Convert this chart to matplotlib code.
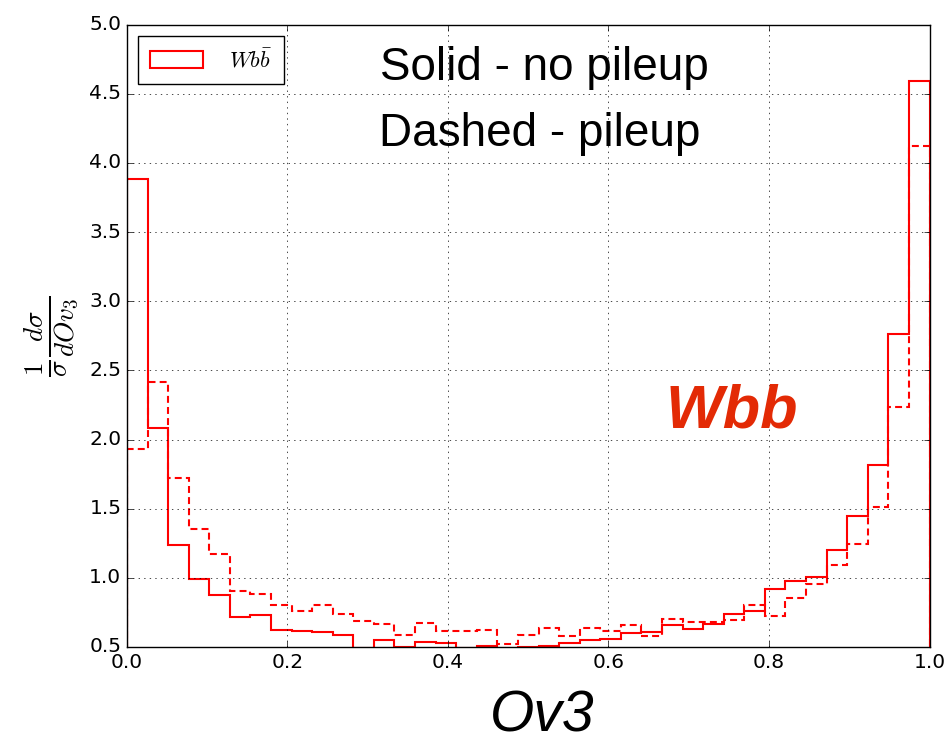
import numpy as np
import matplotlib
matplotlib.use('Agg')
import matplotlib.pyplot as plt

plt.style.use('classic')
plt.rcParams['mathtext.fontset'] = 'cm'
plt.rcParams['xtick.labelsize'] = 14.5
plt.rcParams['ytick.labelsize'] = 14.5

# 39 bins between 0 and 1
edges = np.linspace(0, 1, 40)

# solid - no pileup
no_pileup = [3.886, 2.08, 1.234, 0.995, 0.879, 0.717, 0.734, 0.626, 0.616, 0.606,
             0.587, 0.49, 0.553, 0.50, 0.534, 0.531, 0.49, 0.506, 0.49, 0.50,
             0.507, 0.529, 0.549, 0.56, 0.60, 0.608, 0.657, 0.628, 0.664, 0.741,
             0.758, 0.919, 0.977, 1.006, 1.204, 1.447, 1.816, 2.766, 4.589]

# dashed - pileup
pileup = [1.93, 2.413, 1.72, 1.355, 1.169, 0.903, 0.886, 0.807, 0.761, 0.804,
          0.736, 0.688, 0.664, 0.584, 0.671, 0.614, 0.614, 0.62, 0.52, 0.587,
          0.635, 0.58, 0.64, 0.616, 0.657, 0.577, 0.705, 0.681, 0.68, 0.698,
          0.807, 0.722, 0.854, 0.953, 1.096, 1.245, 1.512, 2.235, 4.12]

centers = 0.5 * (edges[:-1] + edges[1:])

fig = plt.figure(figsize=(9.51, 7.44), dpi=100, facecolor='white')
ax = fig.add_axes([0.1335, 0.1304, 0.8439, 0.8366])

ax.hist(centers, bins=edges, weights=no_pileup, histtype='step',
        color='red', lw=1.5, label=r'$Wb\bar{b}$')
ax.hist(centers, bins=edges, weights=pileup, histtype='step',
        color='red', lw=1.5, linestyle=(0, (5, 3)))

ax.set_xlim(0, 1)
ax.set_ylim(0.5, 5.0)
ax.set_xticks(np.arange(0, 1.01, 0.2))
ax.set_yticks(np.arange(0.5, 5.01, 0.5))
ax.grid(True)
ax.set_ylabel(r'$\frac{1}{\sigma}\frac{d\sigma}{dOv_3}$', fontsize=28, labelpad=6)

ax.legend(loc='upper left', fontsize=16, handlelength=2.35, handleheight=0.83,
          borderpad=0.55, handletextpad=1.2, borderaxespad=0.5)

fig.text(0.5725, 1 - 80 / 744, 'Solid - no pileup', fontsize=33,
         family='Liberation Sans', ha='center', va='baseline')
fig.text(0.5675, 1 - 146.5 / 744, 'Dashed - pileup', fontsize=33,
         family='Liberation Sans', ha='center', va='baseline')
fig.text(0.7697, 1 - 427 / 744, 'Wbb', fontsize=44, family='Liberation Sans',
         weight='bold', style='italic', color='#e32a05', ha='center', va='baseline')
fig.text(0.570, 1 - 731 / 744, 'Ov3', fontsize=41, family='Liberation Sans',
         style='italic', ha='center', va='baseline')

fig.savefig('out.png', dpi=100, facecolor='white')
